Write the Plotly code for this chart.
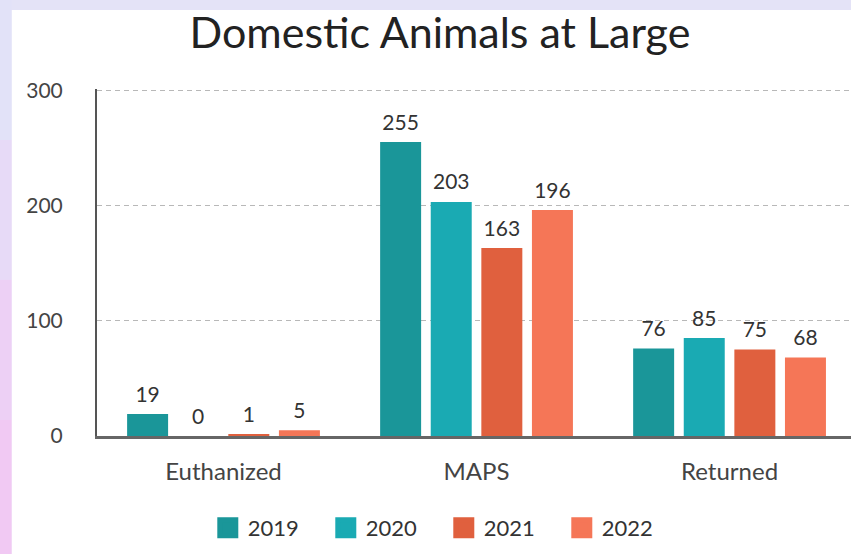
import plotly.graph_objects as go

categories = ["Euthanized", "MAPS", "Returned"]
years = ["2019", "2020", "2021", "2022"]
values_2019 = [19, 255, 76]
values_2020 = [0, 203, 85]
values_2021 = [1, 163, 75]
values_2022 = [5, 196, 68]
series = [values_2019, values_2020, values_2021, values_2022]
colors = ["#1a9699", "#1aaab3", "#e0603e", "#f57657"]
y_ticks = [0, 100, 200, 300]

FONT = "Lato"
fig = go.Figure()
for name, vals, col in zip(years, series, colors):
    fig.add_trace(go.Bar(
        x=categories, y=vals, name=name,
        marker=dict(color=col, line=dict(width=0)),
        offsetgroup=name, alignmentgroup="bars",
        showlegend=False,
    ))
# value labels, grouped the same way as the bars, lifted by an invisible marker
for name, vals, col in zip(years, series, colors):
    fig.add_trace(go.Scatter(
        x=categories, y=vals, name=name, mode="markers+text",
        text=[str(v) for v in vals], textposition="top center",
        textfont=dict(family=FONT, size=21, color="#333333"),
        marker=dict(size=10, color="rgba(0,0,0,0)"),
        offsetgroup=name, alignmentgroup="labels",
        cliponaxis=False, showlegend=False, hoverinfo="skip",
    ))
for name, col in zip(years, colors):
    fig.add_trace(go.Scatter(
        x=[None], y=[None], mode="markers", name=name,
        marker=dict(symbol="square", size=24, color=col, line=dict(color=col, width=5)),
        offsetgroup=name, alignmentgroup="labels",
        showlegend=True,
    ))

# frame background: white panel over a lavender -> pink edge
bands = [(1.5, 0.853, "#e2e2f8"), (0.853, 0.45, "#e7daf7"), (0.45, 0.046, "#edd0f5"), (0.046, -0.6, "#f1c9f3")]
for y1, y0, c in bands:
    fig.add_shape(type="rect", xref="paper", yref="paper", x0=-0.2, x1=-0.113, y0=y0, y1=y1,
                  fillcolor=c, line=dict(width=0), layer="below")
fig.add_shape(type="rect", xref="paper", yref="paper", x0=-0.113, x1=1.1, y0=-0.6, y1=1.228,
              fillcolor="white", line=dict(width=0), layer="below")

fig.update_layout(
    width=851, height=554,
    margin=dict(l=97, r=0, t=89, b=118),
    paper_bgcolor="#e4e3f7", plot_bgcolor="rgba(0,0,0,0)",
    title=dict(text="Domestic Animals at Large", x=0.517, xanchor="center", xref="container",
               y=0.94, yanchor="middle", yref="container",
               font=dict(family=FONT, size=43, color="#222222")),
    barmode="group", bargap=0.2, bargroupgap=0.19,
    scattermode="group", scattergap=0.2,
    font=dict(family=FONT, color="#444444"),
    legend=dict(orientation="h", x=0.5215, xanchor="center", xref="container",
                y=0.047, yanchor="middle", yref="container",
                font=dict(family=FONT, size=22, color="#333333"),
                entrywidth=73, entrywidthmode="pixels", bgcolor="rgba(0,0,0,0)"),
    xaxis=dict(range=[-0.5, 2.48], showline=True, linecolor="#666666", linewidth=2.5,
               showgrid=False, ticks="", ticklabelstandoff=12,
               tickfont=dict(family=FONT, size=24, color="#444444"), fixedrange=True),
    yaxis=dict(range=[0, 301], tickvals=y_ticks, showline=True, linecolor="#555555", linewidth=2,
               showgrid=True, gridcolor="#b8b8b8", griddash="5px,4px", gridwidth=1.2,
               zeroline=False, ticks="", ticklabelstandoff=28,
               tickfont=dict(family=FONT, size=21, color="#444444"), fixedrange=True),
)

fig.write_html("out.html", config={"displayModeBar": False},
               post_script="document.body.style.margin='0';document.body.style.overflow='hidden';")
